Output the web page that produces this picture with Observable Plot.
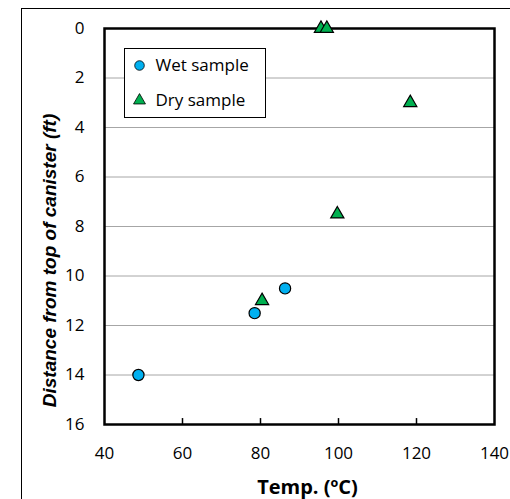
<!DOCTYPE html>
<html>
<head>
<meta charset="utf-8">
<script src="https://cdn.jsdelivr.net/npm/d3@7"></script>
<script src="https://cdn.jsdelivr.net/npm/@observablehq/plot@0.6"></script>
<style>
  html, body { margin: 0; padding: 0; background: #fff; overflow: hidden; }
  #wrap { position: relative; width: 510px; height: 499px; }
  #outer { position: absolute; left: 21px; top: 8px; width: 520px; height: 520px; border: 1.5px solid #000; box-sizing: border-box; }
  #chart { position: absolute; left: 0; top: 0; }
  #legend { position: absolute; left: 124px; top: 48px; width: 142px; height: 70px; border: 1.5px solid #000; box-sizing: border-box; background: #fff; }
</style>
</head>
<body>
<div id="wrap">
  <div id="outer"></div>
  <div id="chart"></div>
  <div id="legend"></div>
</div>
<script>
// Data
const seriesNames = ["Wet sample", "Dry sample"];
const wetTemp = [48.7, 78.5, 86.3];
const wetDist = [14, 11.5, 10.5];
const dryTemp = [95.5, 97, 118.4, 99.7, 80.4];
const dryDist = [0, 0, 3, 7.5, 11];
const xTicks = [40, 60, 80, 100, 120, 140];
const yTicks = [0, 2, 4, 6, 8, 10, 12, 14, 16];
const yGrid = [2, 4, 6, 8, 10, 12, 14];
const xInnerTicks = [60, 80, 100, 120];
const xTitle = "Temp. (ºC)";
const yTitle = "Distance from top of canister (ft)";
const wetColor = "#00B0F0";
const dryColor = "#00B050";

const wet = wetTemp.map((t, i) => ({temp: t, dist: wetDist[i]}));
const dry = dryTemp.map((t, i) => ({temp: t, dist: dryDist[i]}));

const tickFont = "'Open Sans', sans-serif";

const chart = Plot.plot({
  width: 510,
  height: 499,
  marginLeft: 104,
  marginRight: 16,
  marginTop: 28,
  marginBottom: 75,
  style: {fontFamily: tickFont, fontSize: "17px", color: "#000", background: "transparent", overflow: "visible"},
  x: {domain: [40, 140]},
  y: {domain: [0, 16], reverse: true},
  marks: [
    Plot.ruleY(yGrid, {stroke: "#a6a6a6", strokeWidth: 1}),
    Plot.ruleX(xInnerTicks, {y1: 16, y2: 15.76, stroke: "#000", strokeWidth: 1.5}),
    Plot.frame({stroke: "#000", strokeWidth: 2.5}),
    Plot.axisY({ticks: yTicks, tickSize: 0, tickPadding: 20, label: null, fontSize: 17, tickFormat: d => String(d)}),
    Plot.axisX({ticks: xTicks, tickSize: 0, tickPadding: 22, label: null, fontSize: 17, tickFormat: d => String(d)}),
    Plot.dot(wet, {x: "temp", y: "dist", r: 5.6, fill: wetColor, stroke: "#000", strokeWidth: 1.2}),
    Plot.dot(dry, {x: "temp", y: "dist", symbol: "triangle", r: 4.9, fill: dryColor, stroke: "#000", strokeWidth: 1.2}),
    Plot.text([xTitle], {frameAnchor: "bottom", textAnchor: "middle", lineAnchor: "middle", dx: 8, dy: 63, text: d => d, fontSize: 20, fontWeight: "bold", fill: "#000"}),
    Plot.text([yTitle], {frameAnchor: "left", textAnchor: "middle", lineAnchor: "middle", dx: -55, dy: 34, rotate: -90, text: d => d, fontSize: 19, fontWeight: "bold", fontStyle: "italic", fontFamily: "'Liberation Sans', Arial, sans-serif", fill: "#000"})
  ]
});
document.getElementById("chart").appendChild(chart);

// Legend
const leg = d3.select("#legend").append("svg").attr("width", 140).attr("height", 68)
  .style("position", "absolute").style("left", "0px").style("top", "0px");
const items = [
  {name: seriesNames[0], color: wetColor, sym: d3.symbolCircle, cy: 16.5},
  {name: seriesNames[1], color: dryColor, sym: d3.symbolTriangle, cy: 51.5}
];
items.forEach(it => {
  leg.append("path")
    .attr("d", d3.symbol(it.sym, it.sym === d3.symbolCircle ? 72 : 62)())
    .attr("transform", `translate(14.5,${it.cy})`)
    .attr("fill", it.color).attr("stroke", "#000").attr("stroke-width", 0.8);
  leg.append("text")
    .attr("x", 30.5).attr("y", it.cy).attr("dy", "0.35em")
    .attr("font-family", tickFont).attr("font-size", 17).attr("fill", "#000")
    .text(it.name);
});
</script>
</body>
</html>
